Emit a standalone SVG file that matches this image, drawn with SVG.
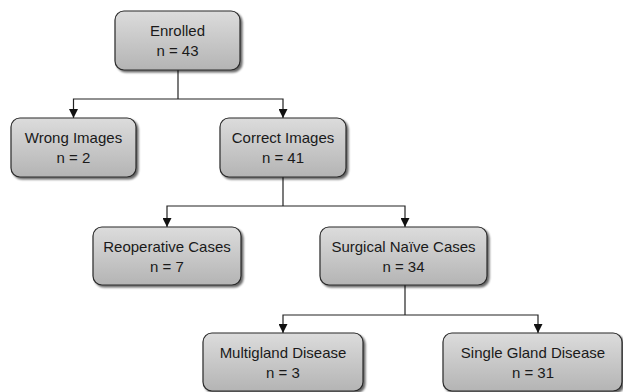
<svg xmlns="http://www.w3.org/2000/svg" width="623" height="392" viewBox="0 0 623 392">
<defs>
<linearGradient id="g" x1="0" y1="0" x2="0" y2="1">
<stop offset="0" stop-color="#dcdcdc"/>
<stop offset="1" stop-color="#b4b4b4"/>
</linearGradient>
<filter id="sh" x="-10%" y="-10%" width="130%" height="140%">
<feGaussianBlur in="SourceAlpha" stdDeviation="1.2"/>
<feOffset dx="2" dy="2" result="b"/>
<feComponentTransfer><feFuncA type="linear" slope="0.6"/></feComponentTransfer>
<feMerge><feMergeNode/><feMergeNode in="SourceGraphic"/></feMerge>
</filter>
<marker id="ah" viewBox="0 0 10 10" refX="10" refY="5" markerWidth="9" markerHeight="9" markerUnits="userSpaceOnUse" orient="auto">
<path d="M0,0 L10,5 L0,10 z" fill="#111"/>
</marker>
</defs>
<style>
.box{fill:url(#g);stroke:#2a2a2a;stroke-width:1.2;filter:url(#sh)}
.t{font-family:"Liberation Sans",Arial,sans-serif;font-size:15px;fill:#1a1a1a;text-anchor:middle}
.c{fill:none;stroke:#222;stroke-width:1.2}
</style>
<g id="connectors">
<path class="c" d="M178,70 V99"/>
<path class="c" d="M178,99 H73.5 V118" marker-end="url(#ah)"/>
<path class="c" d="M178,99 H283 V118" marker-end="url(#ah)"/>
<path class="c" d="M283,177 V206"/>
<path class="c" d="M283,206 H167 V227" marker-end="url(#ah)"/>
<path class="c" d="M283,206 H405 V227" marker-end="url(#ah)"/>
<path class="c" d="M405,285 V315"/>
<path class="c" d="M405,315 H283 V333" marker-end="url(#ah)"/>
<path class="c" d="M405,315 H538 V333" marker-end="url(#ah)"/>
</g>
<g id="enrolled">
<rect class="box" x="115" y="11" width="125" height="59" rx="9"/>
<text class="t" x="177.5" y="36">Enrolled</text>
<text class="t" x="177.5" y="56">n = 43</text>
</g>
<g id="wrong">
<rect class="box" x="11" y="118" width="125" height="59" rx="9"/>
<text class="t" x="73.5" y="143">Wrong Images</text>
<text class="t" x="73.5" y="163">n = 2</text>
</g>
<g id="correct">
<rect class="box" x="220" y="118" width="126" height="59" rx="9"/>
<text class="t" x="283" y="143">Correct Images</text>
<text class="t" x="283" y="163">n = 41</text>
</g>
<g id="reoperative">
<rect class="box" x="93" y="227" width="148" height="58" rx="9"/>
<text class="t" x="167" y="252">Reoperative Cases</text>
<text class="t" x="167" y="272">n = 7</text>
</g>
<g id="naive">
<rect class="box" x="320" y="227" width="167" height="58" rx="9"/>
<text class="t" x="403.5" y="252">Surgical Naïve Cases</text>
<text class="t" x="403.5" y="272">n = 34</text>
</g>
<g id="multigland">
<rect class="box" x="203" y="333" width="160" height="58" rx="9"/>
<text class="t" x="283" y="358">Multigland Disease</text>
<text class="t" x="283" y="378">n = 3</text>
</g>
<g id="single">
<rect class="box" x="443" y="333" width="179" height="58" rx="9"/>
<text class="t" x="533" y="358">Single Gland Disease</text>
<text class="t" x="533" y="378">n = 31</text>
</g>
</svg>
